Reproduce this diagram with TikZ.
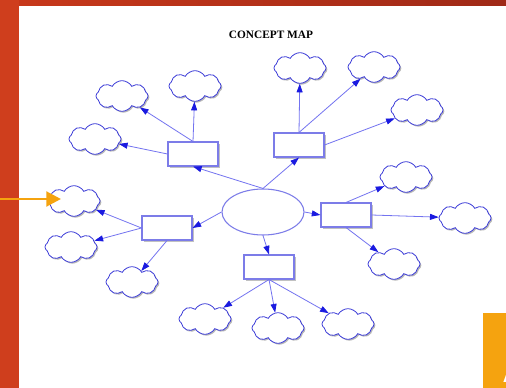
\documentclass[tikz,border=0pt]{standalone}
\usepackage{fontspec}
\setmainfont{Liberation Serif}
\setsansfont{Liberation Sans}
\usetikzlibrary{shapes.geometric,shapes.symbols,shadows,arrows.meta}
\definecolor{framered}{HTML}{CF3E1D}
\definecolor{barleft}{HTML}{C7381A}
\definecolor{barright}{HTML}{9F2917}
\definecolor{pointer}{HTML}{F5A30F}
\definecolor{linkblue}{HTML}{7373F0}
\definecolor{tipblue}{HTML}{1A1AE0}
\definecolor{edgeblue}{HTML}{7C7CE8}
\definecolor{puffblue}{HTML}{3C3CD8}

\begin{document}
\begin{tikzpicture}[x=0.75pt,y=-0.75pt,
			box/.style={draw=edgeblue,fill=white,line width=.8pt,minimum width=37.5pt,minimum height=18pt,inner sep=0pt,
				drop shadow={shadow xshift=1.3pt,shadow yshift=-1.3pt,fill=gray!60,opacity=.8}},
			hub/.style={draw=edgeblue,fill=white,ellipse,line width=.8pt,minimum width=61.5pt,minimum height=34.5pt,inner sep=0pt},
			bubble/.style={cloud,cloud puffs=8,cloud puff arc=120,aspect=1.7,draw=puffblue,fill=white,line width=.6pt,
				minimum width=39pt,minimum height=23pt,inner sep=0pt,
				drop shadow={shadow xshift=1pt,shadow yshift=-1pt,fill=gray!70,opacity=.8}},
			link/.style={draw=linkblue,line width=.6pt,-{Triangle[length=6.5pt,width=4.5pt,color=tipblue]}},
			pointer arrow/.style={draw=pointer,line width=2.2pt,-{Triangle[length=11pt,width=11pt]}}]
			\useasboundingbox (0,0) rectangle (506,388);
			\fill[framered] (0,0) rectangle (506,388);
			\shade[left color=barleft,right color=barright] (19,0) rectangle (506,6);
			\fill[white] (19,6) rectangle (506,388);
			\fill[pointer] (483,313) rectangle (530,400);
			\node[text=white,font=\sffamily\bfseries\fontsize{40}{40}\selectfont,inner sep=0pt] (tag) at (522,364) {A};

			\node[font=\bfseries\fontsize{8.5}{10}\selectfont] (title) at (271,35) {CONCEPT MAP};

			\node (main) [hub] at (263,212) {};
			\node (bnw) [box] at (193,154) {};
			\node (bne) [box] at (299,145) {};
			\node (beast) [box] at (346,215) {};
			\node (bwest) [box] at (167,228) {};
			\node (bsouth) [box] at (269,267) {};

			\node (cnw1) [bubble] at (122,96) {};
			\node (cnw2) [bubble] at (195,86) {};
			\node (cnw3) [bubble] at (95,139) {};
			\node (cne1) [bubble] at (300,68) {};
			\node (cne2) [bubble] at (374,67) {};
			\node (cne3) [bubble] at (417,110) {};
			\node (ce1) [bubble] at (406,177) {};
			\node (ce2) [bubble] at (465,218) {};
			\node (ce3) [bubble] at (394,264) {};
			\node (cw1) [bubble] at (74,201) {};
			\node (cw2) [bubble] at (71,247) {};
			\node (cw3) [bubble] at (132,282) {};
			\node (cs1) [bubble] at (205,319) {};
			\node (cs2) [bubble] at (278,328) {};
			\node (cs3) [bubble] at (348,324) {};

			\draw[link] (main.north) -- (bnw.south);
			\draw[link] (main.north) -- (bne.south);
			\draw[link] (main.east) -- (beast.west);
			\draw[link] (main.west) -- (bwest.east);
			\draw[link] (main.south) -- (bsouth.north);

			\draw[link] (bnw.north) -- (cnw1);
			\draw[link] (bnw.north) -- (cnw2);
			\draw[link] (bnw.west) -- (cnw3);
			\draw[link] (bne.north) -- (cne1);
			\draw[link] (bne.north) -- (cne2);
			\draw[link] (bne.east) -- (cne3);
			\draw[link] (beast.north) -- (ce1);
			\draw[link] (beast.east) -- (ce2);
			\draw[link] (beast.south) -- (ce3);
			\draw[link] (bwest.west) -- (cw1);
			\draw[link] (bwest.west) -- (cw2);
			\draw[link] (bwest.south) -- (cw3);
			\draw[link] (bsouth.south) -- (cs1);
			\draw[link] (bsouth.south) -- (cs2);
			\draw[link] (bsouth.south) -- (cs3);

			\coordinate (penstart) at (0,199);
			\coordinate (pentip) at (61,199);
			\draw[pointer arrow] (penstart) -- (pentip);
		\end{tikzpicture}
\end{document}
